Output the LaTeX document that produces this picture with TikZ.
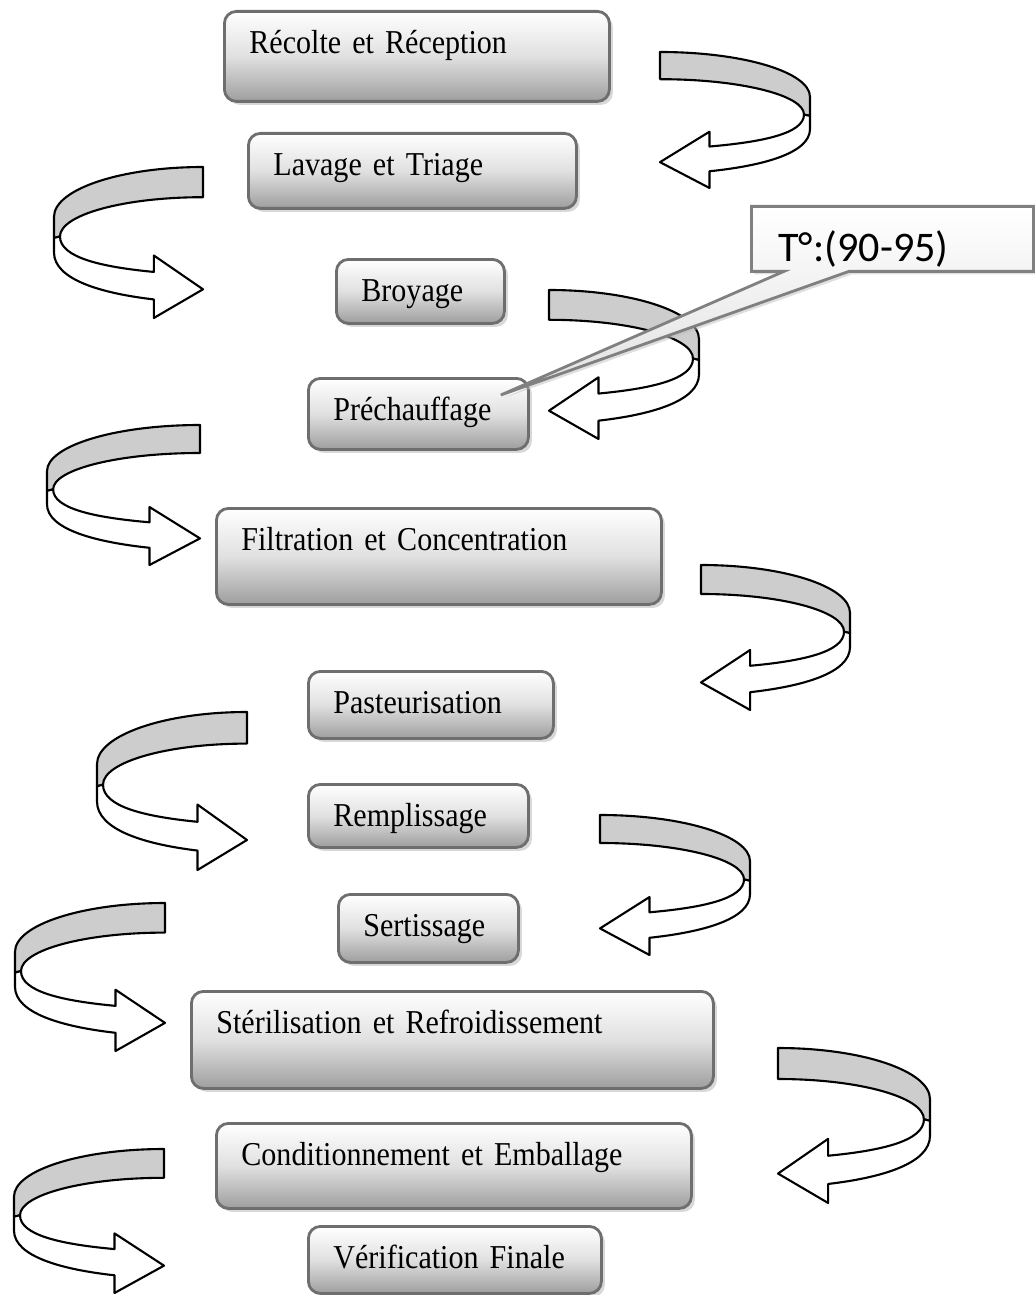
\documentclass[tikz,border=0pt]{standalone}
\usepackage{fontspec}
\setmainfont{Liberation Serif}[FakeStretch=0.9]
\newfontfamily\calloutfont{Carlito}
\usetikzlibrary{shadows,shapes.callouts}

\definecolor{bandgray}{HTML}{CDCDCD}
\definecolor{boxline}{HTML}{6E6E6E}

\tikzset{
  procbox/.style={draw=boxline, line width=0.8pt, rounded corners=1.2mm,
    anchor=north west, top color=white, bottom color=black!38, middle color=black!12,
    inner xsep=2.5mm, inner ysep=0pt, align=left, text height=4.2mm,
    font=\fontsize{9.5}{11}\selectfont,
    drop shadow={shadow xshift=0.35mm, shadow yshift=-0.35mm, fill=black!30}},
  tempbox/.style={rectangle callout, draw=black!50, line width=0.8pt,
    anchor=north west, top color=white, bottom color=black!12,
    inner xsep=2.7mm, inner ysep=0pt, align=left, text height=5.5mm, text depth=1mm,
    text width=22.8mm, callout pointer width=6.5mm, font=\calloutfont\fontsize{12}{14}\selectfont,
    drop shadow={shadow xshift=0.3mm, shadow yshift=-0.3mm, fill=black!25}},
  arrowline/.style={draw=black, line width=0.6pt, line join=round},
  curl/.pic={
    % back of the band
    \draw[arrowline, fill=bandgray] (0,0) .. controls (0.552,0) and (1,0.148) .. (1,0.33)
      -- (1,0.47) -- (0.96,0.46) .. controls (0.96,0.316) and (0.53,0.2) .. (0,0.2) -- cycle;
    % front of the band with the head
    \draw[arrowline, fill=white] (0.96,0.46) .. controls (0.96,0.60) and (0.68,0.662) .. (0.33,0.695)
      -- (0.33,0.586) -- (0,0.81) -- (0.33,1) -- (0.33,0.877)
      .. controls (0.68,0.837) and (1,0.746) .. (1,0.566) -- (1,0.47) -- cycle;
  }
}

\begin{document}
\begin{tikzpicture}[x=0.1mm, y=-0.1mm]
  \useasboundingbox (0,0) rectangle (1034,1295);

  % Steps
  \node[procbox, text width=33.5mm, text depth=4.8mm] (rec) at (223,10) {Récolte et Réception};
  \node[procbox, text width=27.8mm, text depth=3.3mm] (lav) at (247,132) {Lavage et Triage};
  \node[procbox, text width=11.8mm, text depth=2.2mm] (bro) at (335,258) {Broyage};
  \node[procbox, text width=17mm, text depth=2.9mm] (pre) at (307,377) {Préchauffage};
  \node[procbox, text width=39.5mm, text depth=5.4mm] (fil) at (215,507) {Filtration et Concentration};
  \node[procbox, text width=19.5mm, text depth=2.5mm] (pas) at (307,670) {Pasteurisation};
  \node[procbox, text width=17mm, text depth=2.1mm] (rem) at (307,783) {Remplissage};
  \node[procbox, text width=13mm, text depth=2.6mm] (ser) at (337,893) {Sertissage};
  \node[procbox, text width=47.2mm, text depth=5.5mm] (ste) at (190,990) {Stérilisation et Refroidissement};
  \node[procbox, text width=42.5mm, text depth=4.3mm] (con) at (215,1122) {Conditionnement et Emballage};
  \node[procbox, text width=24.3mm, text depth=2.5mm] (ver) at (307,1225) {Vérification Finale};

  % Curved arrows on the right
  \pic[xscale=150, yscale=136] at (660,52) {curl};
  \pic[xscale=150, yscale=149] at (549,290) {curl};
  \pic[xscale=149, yscale=145] at (701,565) {curl};
  \pic[xscale=150, yscale=140] at (600,815) {curl};
  \pic[xscale=152, yscale=155] at (778,1048) {curl};

  % Curved arrows on the left
  \pic[xscale=-149, yscale=151] at (203,167) {curl};
  \pic[xscale=-153, yscale=140] at (200,425) {curl};
  \pic[xscale=-150, yscale=158] at (247,712) {curl};
  \pic[xscale=-150, yscale=148] at (165,903) {curl};
  \pic[xscale=-150, yscale=144] at (164,1149) {curl};

  % Temperature callout
  \coordinate (tip) at ([xshift=-2.9mm, yshift=-1.8mm]pre.north east);
  \node[tempbox, callout absolute pointer={(tip)}] (temp) at (750,205) {T°:(90-95)};
\end{tikzpicture}
\end{document}
